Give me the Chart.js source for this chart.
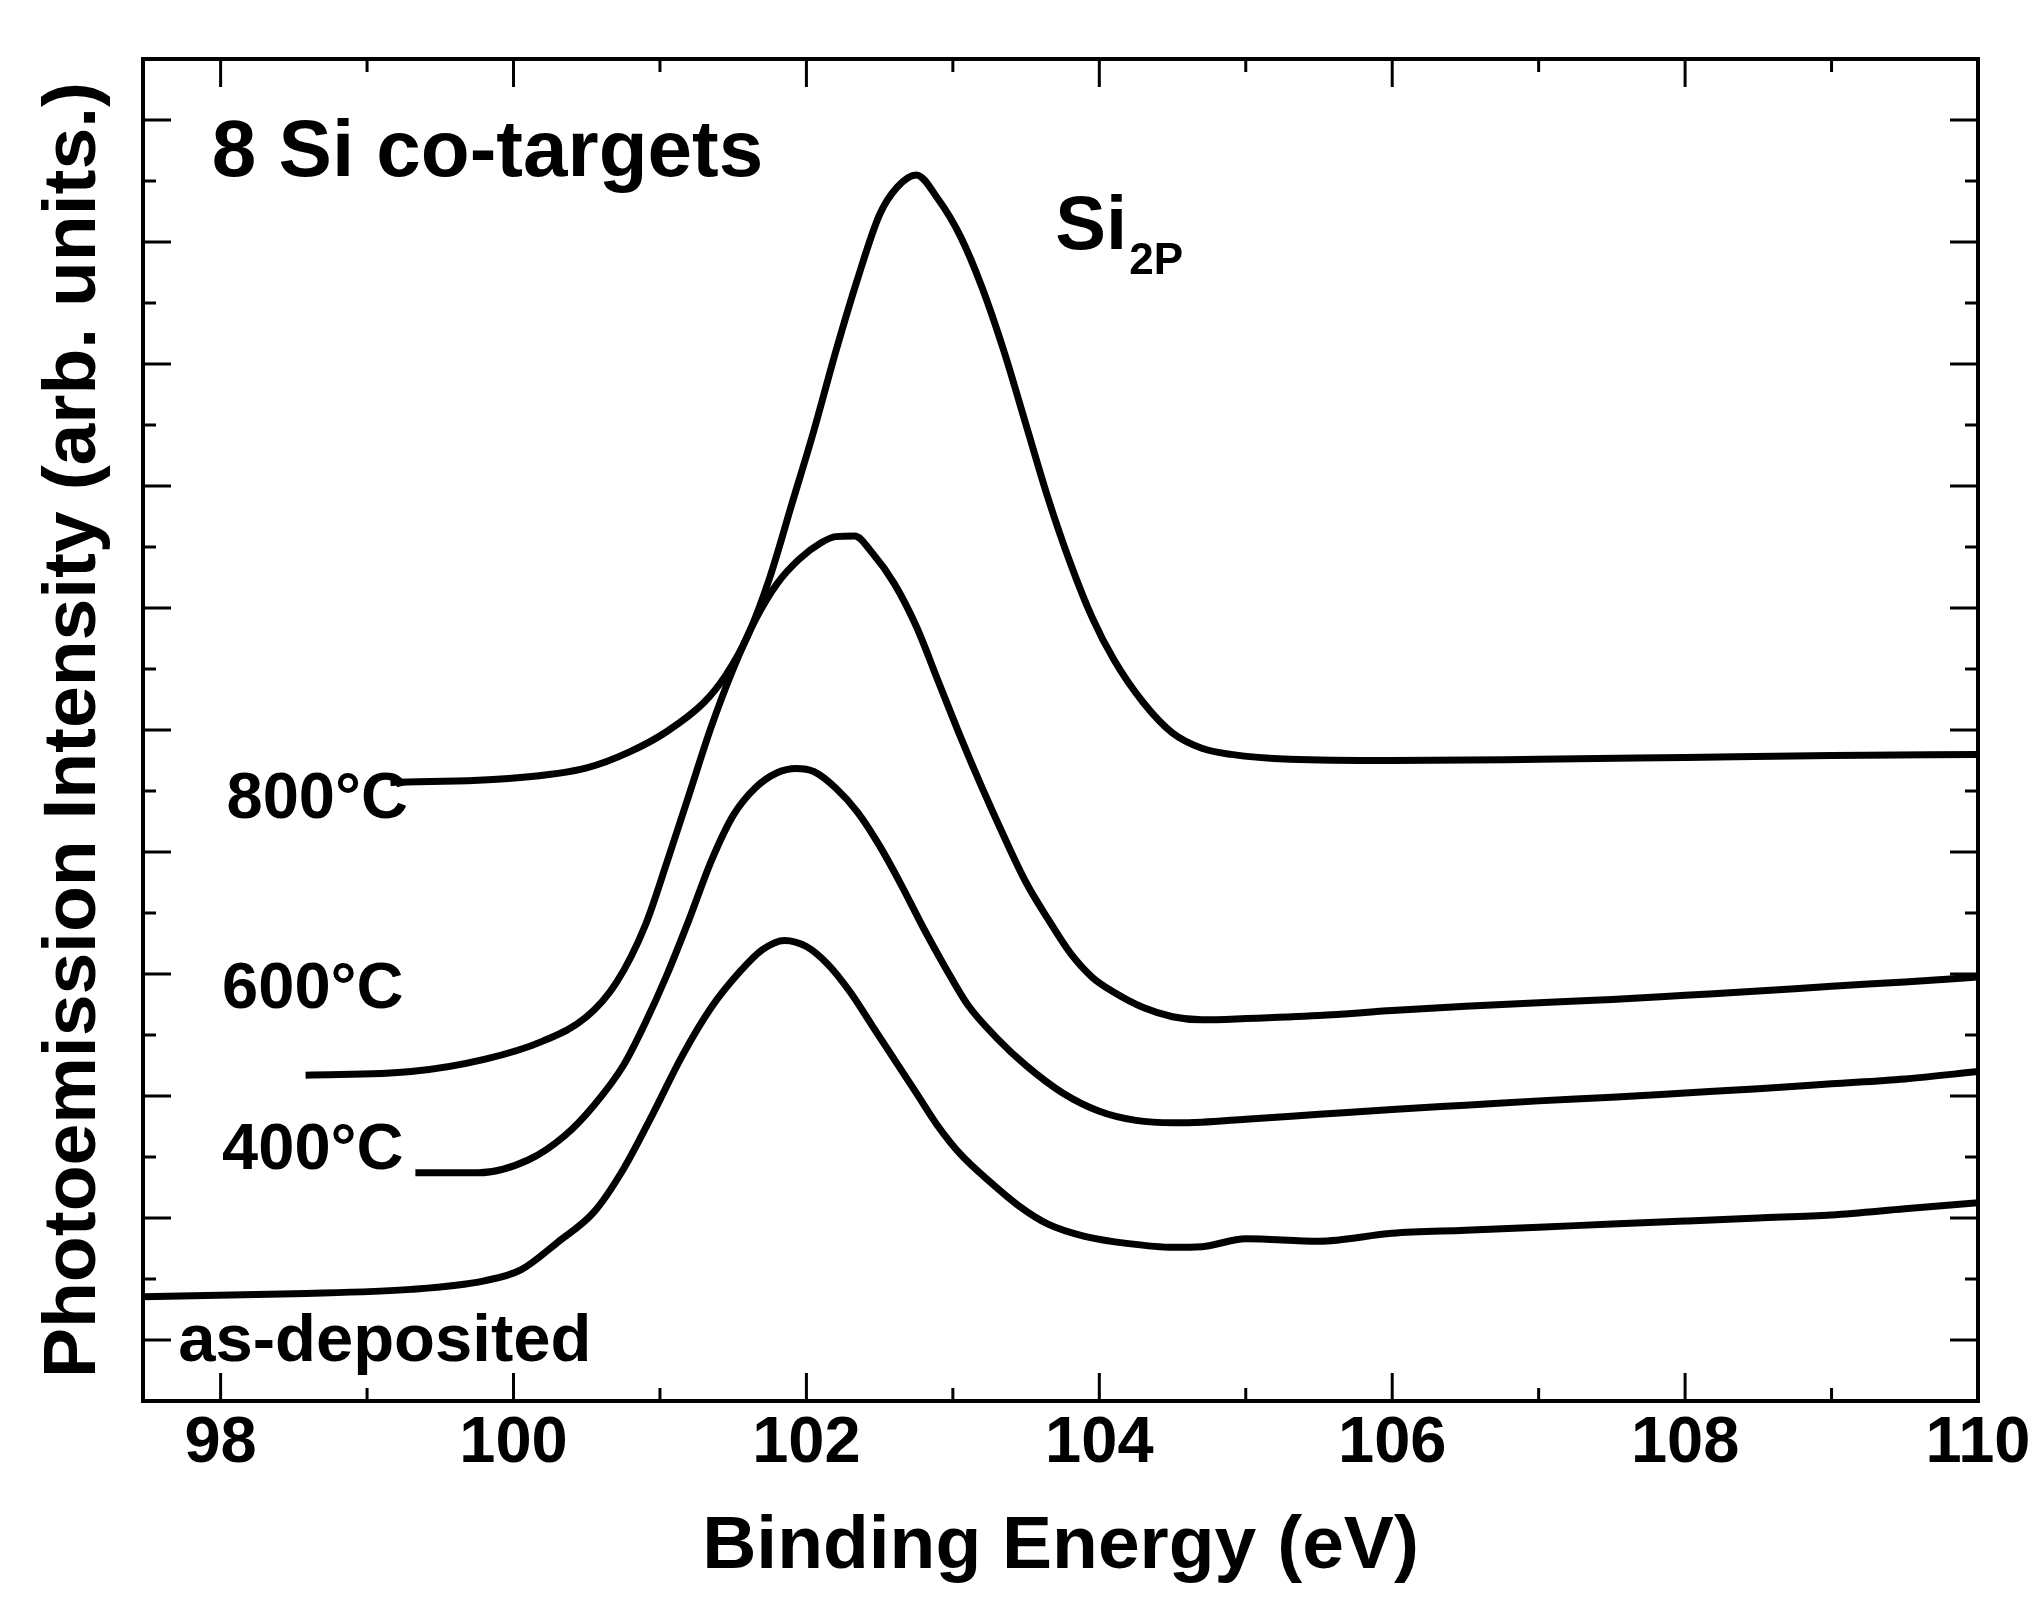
<!DOCTYPE html>
<html>
<head>
<meta charset="utf-8">
<script src="https://cdn.jsdelivr.net/npm/chart.js@4.4.0/dist/chart.umd.min.js"></script>
<style>
  html, body { margin: 0; padding: 0; background: #fff; }
</style>
</head>
<body>
<canvas id="xps" width="2040" height="1618"></canvas>
<script>
// ============================================================
// Si 2p photoemission — 8 Si co-targets, as-deposited + anneals
// ============================================================

const energyTicks = [98, 100, 102, 104, 106, 108, 110];

// as-deposited
const asDepX = [97.47, 98.5, 99.3, 99.8, 100.05, 100.3, 100.55, 100.75, 100.95, 101.15, 101.35, 101.55, 101.7, 101.85, 102.0, 102.15, 102.3, 102.45, 102.6, 102.75, 102.9, 103.05, 103.25, 103.45, 103.65, 103.9, 104.2, 104.5, 104.7, 105.0, 105.5, 106.0, 106.5, 107.0, 107.5, 108.0, 108.5, 109.0, 109.5, 110.0];
const asDepY = [0.71, 0.76, 0.83, 0.97, 1.15, 1.6, 2.1, 2.8, 3.7, 4.65, 5.45, 6.05, 6.4, 6.55, 6.45, 6.15, 5.7, 5.15, 4.6, 4.05, 3.5, 3.05, 2.6, 2.2, 1.9, 1.7, 1.58, 1.52, 1.53, 1.66, 1.62, 1.75, 1.8, 1.85, 1.9, 1.95, 2.0, 2.05, 2.15, 2.25];

// 400 C
const t400X = [99.33, 99.76, 100.1, 100.35, 100.55, 100.75, 100.9, 101.05, 101.2, 101.35, 101.5, 101.65, 101.8, 101.93, 102.05, 102.2, 102.35, 102.5, 102.65, 102.8, 102.95, 103.1, 103.3, 103.5, 103.75, 104.0, 104.25, 104.5, 104.7, 105.0, 105.5, 106.0, 106.5, 107.0, 107.5, 108.0, 108.5, 109.0, 109.5, 110.0];
const t400Y = [2.74, 2.74, 2.95, 3.35, 3.85, 4.5, 5.2, 6.0, 6.9, 7.85, 8.6, 9.05, 9.3, 9.37, 9.32, 9.05, 8.65, 8.1, 7.45, 6.75, 6.1, 5.5, 4.95, 4.5, 4.05, 3.75, 3.6, 3.56, 3.57, 3.62, 3.7, 3.78, 3.85, 3.92, 3.98, 4.05, 4.12, 4.2, 4.28, 4.4];

// 600 C
const t600X = [98.58, 99.3, 99.8, 100.2, 100.5, 100.7, 100.9, 101.05, 101.2, 101.35, 101.5, 101.65, 101.8, 101.95, 102.1, 102.2, 102.33, 102.45, 102.6, 102.75, 102.9, 103.05, 103.2, 103.35, 103.5, 103.65, 103.8, 103.95, 104.1, 104.3, 104.5, 104.7, 105.0, 105.5, 106.0, 106.5, 107.0, 107.5, 108.0, 108.5, 109.0, 109.5, 110.0];
const t600Y = [4.34, 4.4, 4.6, 4.9, 5.3, 5.85, 6.8, 7.85, 8.95, 10.05, 11.0, 11.8, 12.4, 12.8, 13.07, 13.17, 13.18, 12.9, 12.4, 11.7, 10.8, 9.9, 9.05, 8.25, 7.5, 6.9, 6.35, 5.95, 5.7, 5.45, 5.3, 5.25, 5.27, 5.32, 5.4, 5.47, 5.53, 5.58, 5.65, 5.72, 5.8, 5.87, 5.95];

// 800 C
const t800X = [99.16, 99.99, 100.5, 100.8, 101.05, 101.3, 101.45, 101.6, 101.75, 101.9, 102.05, 102.2, 102.35, 102.5, 102.62, 102.75, 102.9, 103.05, 103.2, 103.35, 103.5, 103.65, 103.8, 103.95, 104.1, 104.3, 104.5, 104.7, 104.9, 105.3, 106.0, 107.0, 108.0, 109.0, 110.0];
const t800Y = [9.14, 9.21, 9.38, 9.65, 9.98, 10.45, 10.9, 11.55, 12.5, 13.7, 14.9, 16.2, 17.4, 18.45, 18.9, 19.1, 18.7, 18.1, 17.25, 16.2, 15.0, 13.8, 12.75, 11.85, 11.15, 10.45, 9.95, 9.7, 9.6, 9.52, 9.5, 9.52, 9.55, 9.58, 9.6];

const X_MIN = 97.47, X_MAX = 110;
const Y_MIN = -1, Y_MAX = 21;

const pts = (xs, ys) => xs.map((x, i) => ({ x, y: ys[i] }));
const FONT = '"Liberation Sans", Arial, sans-serif';

function curve(label, xs, ys) {
  return {
    label,
    data: pts(xs, ys),
    showLine: true,
    borderColor: '#000',
    borderWidth: 7,
    pointRadius: 0,
    cubicInterpolationMode: 'monotone',
  };
}

// Frame, inward ticks on all four sides, and the text annotations
const framePlugin = {
  id: 'frameTicks',
  afterDatasetsDraw(chart) {
    const { ctx, chartArea: a, scales: { x, y } } = chart;
    ctx.save();
    ctx.strokeStyle = '#000';
    ctx.lineWidth = 4;
    ctx.strokeRect(a.left, a.top, a.right - a.left, a.bottom - a.top);

    ctx.lineWidth = 3;
    ctx.beginPath();
    for (let v = Math.ceil(X_MIN); v < X_MAX; v++) {
      const px = x.getPixelForValue(v);
      const len = v % 2 === 0 ? 28 : 13;
      ctx.moveTo(px, a.bottom); ctx.lineTo(px, a.bottom - len);
      ctx.moveTo(px, a.top);    ctx.lineTo(px, a.top + len);
    }
    for (let v = Y_MIN + 1; v < Y_MAX; v++) {
      const py = y.getPixelForValue(v);
      const len = v % 2 === 0 ? 28 : 13;
      ctx.moveTo(a.left, py);  ctx.lineTo(a.left + len, py);
      ctx.moveTo(a.right, py); ctx.lineTo(a.right - len, py);
    }
    ctx.stroke();

    // annotations (placed in data coordinates)
    ctx.fillStyle = '#000';
    ctx.textBaseline = 'alphabetic';
    ctx.textAlign = 'left';
    const put = (txt, xv, yv, size) => {
      ctx.font = `bold ${size}px ${FONT}`;
      ctx.fillText(txt, x.getPixelForValue(xv), y.getPixelForValue(yv));
      return ctx.measureText(txt).width;
    };
    put('8 Si co-targets', 97.94, 19.08, 80);
    const w = put('Si', 103.70, 17.89, 76);
    ctx.font = `bold 44px ${FONT}`;
    ctx.fillText('2P', x.getPixelForValue(103.70) + w + 2, y.getPixelForValue(17.48));
    put('800°C', 98.04, 8.56, 65);
    put('600°C', 98.01, 5.44, 65);
    put('400°C', 98.01, 2.81, 65);
    put('as-deposited', 97.71, -0.34, 67);
    ctx.restore();
  },
};

new Chart(document.getElementById('xps'), {
  type: 'scatter',
  data: {
    datasets: [
      curve('as-deposited', asDepX, asDepY),
      curve('400°C', t400X, t400Y),
      curve('600°C', t600X, t600Y),
      curve('800°C', t800X, t800Y),
    ],
  },
  options: {
    responsive: false,
    devicePixelRatio: 1,
    animation: false,
    layout: { padding: { left: 0, right: 62, top: 59, bottom: 0 } },
    plugins: { legend: { display: false }, tooltip: { enabled: false } },
    scales: {
      x: {
        type: 'linear', position: 'bottom', min: X_MIN, max: X_MAX,
        afterBuildTicks: s => { s.ticks = energyTicks.map(v => ({ value: v })); },
        afterFit: s => { s.height = 1618 - 1401; },
        grid: { display: false, drawTicks: false },
        border: { display: false },
        ticks: {
          color: '#000', padding: 4, maxRotation: 0, autoSkip: false,
          font: { family: FONT, size: 65, weight: 'bold' },
          callback: v => String(v),
        },
        title: {
          display: true, text: 'Binding Energy (eV)', color: '#000',
          font: { family: FONT, size: 75, weight: 'bold' },
          padding: { top: 0, bottom: 26 },
        },
      },
      y: {
        type: 'linear', min: Y_MIN, max: Y_MAX,
        afterFit: s => { s.width = 143; },
        grid: { display: false, drawTicks: false },
        border: { display: false },
        ticks: { display: false },
        title: {
          display: true, text: 'Photoemission Intensity (arb. units.)', color: '#000',
          font: { family: FONT, size: 75, weight: 'bold' },
          padding: { top: 29, bottom: 0 },
        },
      },
    },
  },
  plugins: [framePlugin],
});
</script>
</body>
</html>
